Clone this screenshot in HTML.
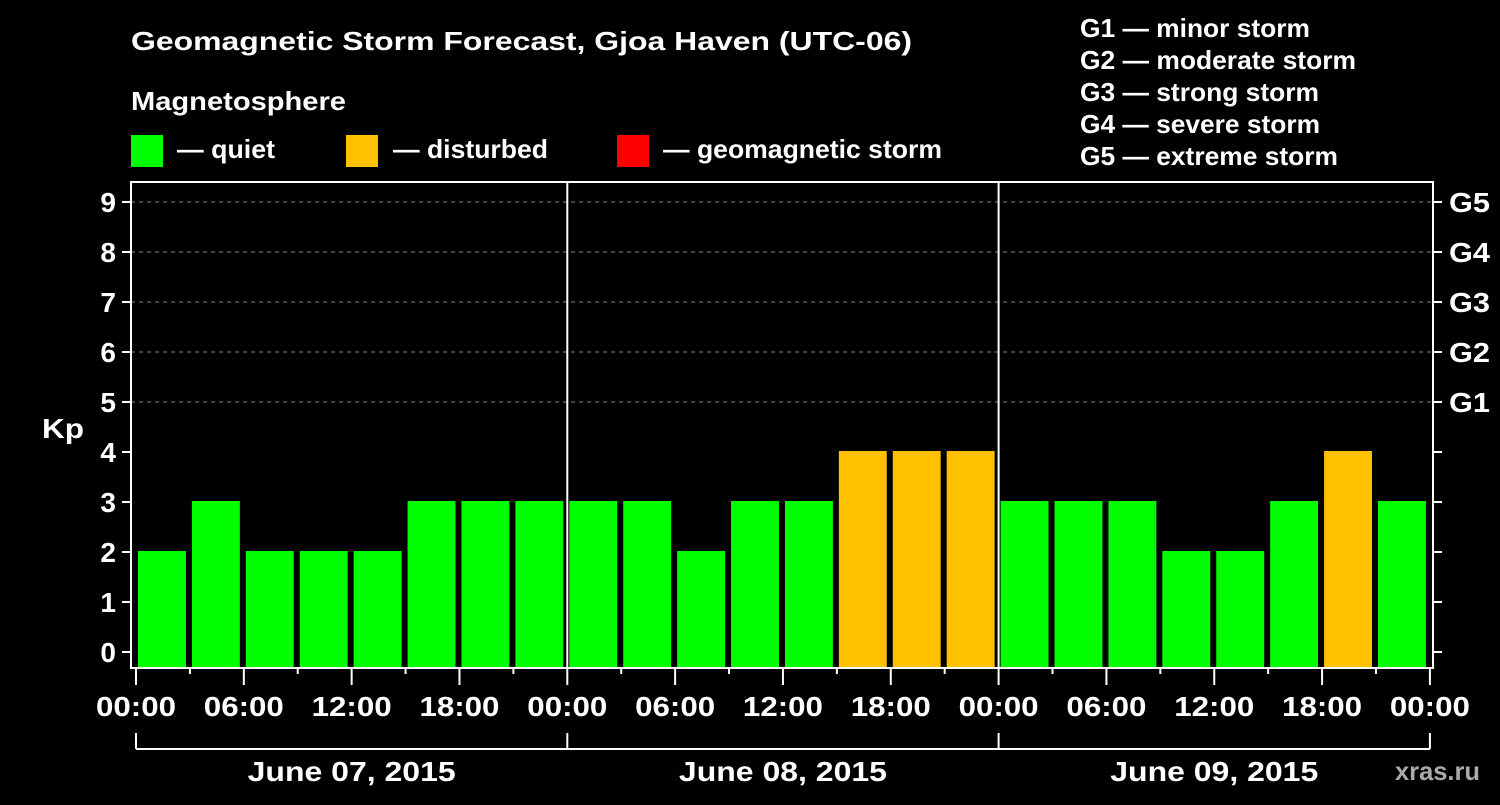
<!DOCTYPE html>
<html><head><meta charset="utf-8"><style>
body{margin:0;background:#000;width:1500px;height:800px;overflow:hidden}
text{font-family:"Liberation Sans",Arial,sans-serif;font-weight:bold;fill:#fff}
</style></head><body>
<svg id="chart" width="1500" height="800" xmlns="http://www.w3.org/2000/svg">
<rect width="1500" height="800" fill="#000"/>
<text x="131" y="50" font-size="26" textLength="781" lengthAdjust="spacingAndGlyphs">Geomagnetic Storm Forecast, Gjoa Haven (UTC-06)</text>
<text x="131" y="110" font-size="26" textLength="215" lengthAdjust="spacingAndGlyphs">Magnetosphere</text>
<g><rect x="131" y="135" width="32" height="32" fill="#00ff00"/><text x="177" y="158" font-size="26" textLength="98" lengthAdjust="spacingAndGlyphs">— quiet</text></g>
<g><rect x="346" y="135" width="32" height="32" fill="#ffc000"/><text x="393" y="158" font-size="26" textLength="155" lengthAdjust="spacingAndGlyphs">— disturbed</text></g>
<g><rect x="617" y="135" width="32" height="32" fill="#ff0000"/><text x="663" y="158" font-size="26" textLength="279" lengthAdjust="spacingAndGlyphs">— geomagnetic storm</text></g>
<g font-size="26">
<text x="1080" y="37" textLength="230" lengthAdjust="spacingAndGlyphs">G1 — minor storm</text>
<text x="1080" y="69" textLength="276" lengthAdjust="spacingAndGlyphs">G2 — moderate storm</text>
<text x="1080" y="101" textLength="239" lengthAdjust="spacingAndGlyphs">G3 — strong storm</text>
<text x="1080" y="133" textLength="240" lengthAdjust="spacingAndGlyphs">G4 — severe storm</text>
<text x="1080" y="165" textLength="258" lengthAdjust="spacingAndGlyphs">G5 — extreme storm</text>
</g>
<text x="42" y="438" font-size="28" textLength="42" lengthAdjust="spacingAndGlyphs">Kp</text>
<g id="grid"></g><g id="bars"></g><g id="axes"></g>
<text x="1395" y="780" font-size="26" textLength="85" lengthAdjust="spacingAndGlyphs" style="fill:#aaa">xras.ru</text>
</svg>
<script>
const days = ["June 07, 2015","June 08, 2015","June 09, 2015"];
const kpValues = [2,3,2,2,2,3,3,3, 3,3,2,3,3,4,4,4, 3,3,3,2,2,3,4,3];
const yTicks = [0,1,2,3,4,5,6,7,8,9];
const gLabels = ["G1","G2","G3","G4","G5"];
const hourLabels = ["00:00","06:00","12:00","18:00"];
const NS="http://www.w3.org/2000/svg";
const X0=136, DAYW=431.3, PL=131, PR=1433, PT=182, PB=668;
function xScale(h){return X0+h/24*DAYW;}
function yScale(v){return 652-v*50;}
function mk(p,tag,a){const e=document.createElementNS(NS,tag);for(const k in a)e.setAttribute(k,a[k]);p.appendChild(e);return e;}
const gridG=document.getElementById('grid'),barsG=document.getElementById('bars'),axesG=document.getElementById('axes');
for(let v=5;v<=9;v++){const l=mk(gridG,'line',{x1:PL,x2:PR,y1:yScale(v),y2:yScale(v),stroke:'#888','stroke-dasharray':'4,4'});

}
kpValues.forEach((v,i)=>{
 const xa=xScale(i*3)+2, xb=xScale(i*3+3)-4;
 const c=v>=5?'#ff0000':(v>=4?'#ffc000':'#00ff00');
 const r=mk(barsG,'rect',{x:xa,y:yScale(v)-1,width:xb-xa,height:PB-yScale(v)+1,fill:c});
 
 
});
for(let d=1;d<days.length;d++){const l=mk(axesG,'line',{x1:xScale(d*24),x2:xScale(d*24),y1:PT,y2:PB,stroke:'#fff','stroke-width':2});

}
mk(axesG,'rect',{x:PL,y:PT,width:PR-PL,height:PB-PT,fill:'none',stroke:'#fff','stroke-width':2});
yTicks.forEach(v=>{const y=yScale(v);
 mk(axesG,'line',{x1:122,x2:PL,y1:y,y2:y,stroke:'#fff','stroke-width':2});
 mk(axesG,'line',{x1:PR,x2:1442,y1:y,y2:y,stroke:'#fff','stroke-width':2});
 const t=mk(axesG,'text',{x:116,y:y+10,'font-size':28,'text-anchor':'end'});t.textContent=v;
 
 
});
gLabels.forEach((g,i)=>{const t=mk(axesG,'text',{x:1449,y:yScale(5+i)+10,'font-size':28,textLength:41,lengthAdjust:'spacingAndGlyphs'});t.textContent=g;
 
 });
for(let h=0;h<=72;h+=3){const x=xScale(h);const major=h%6==0;
 mk(axesG,'line',{x1:x,x2:x,y1:PB,y2:major?685:674,stroke:'#fff','stroke-width':2});
 if(major){const lab=hourLabels[(h/6)%4];const t=mk(axesG,'text',{x:x-40,y:716,'font-size':28,textLength:80,lengthAdjust:'spacingAndGlyphs'});t.textContent=lab;
 
 }}
mk(axesG,'line',{x1:xScale(0),x2:xScale(72),y1:749,y2:749,stroke:'#fff','stroke-width':2});
for(let d=0;d<=days.length;d++){const x=xScale(d*24);mk(axesG,'line',{x1:x,x2:x,y1:733,y2:749,stroke:'#fff','stroke-width':2});}
days.forEach((d,i)=>{const t=mk(axesG,'text',{x:xScale(i*24+12)-104,y:781,'font-size':28,textLength:208,lengthAdjust:'spacingAndGlyphs'});t.textContent=d;
 
 });
</script>
</body></html>
